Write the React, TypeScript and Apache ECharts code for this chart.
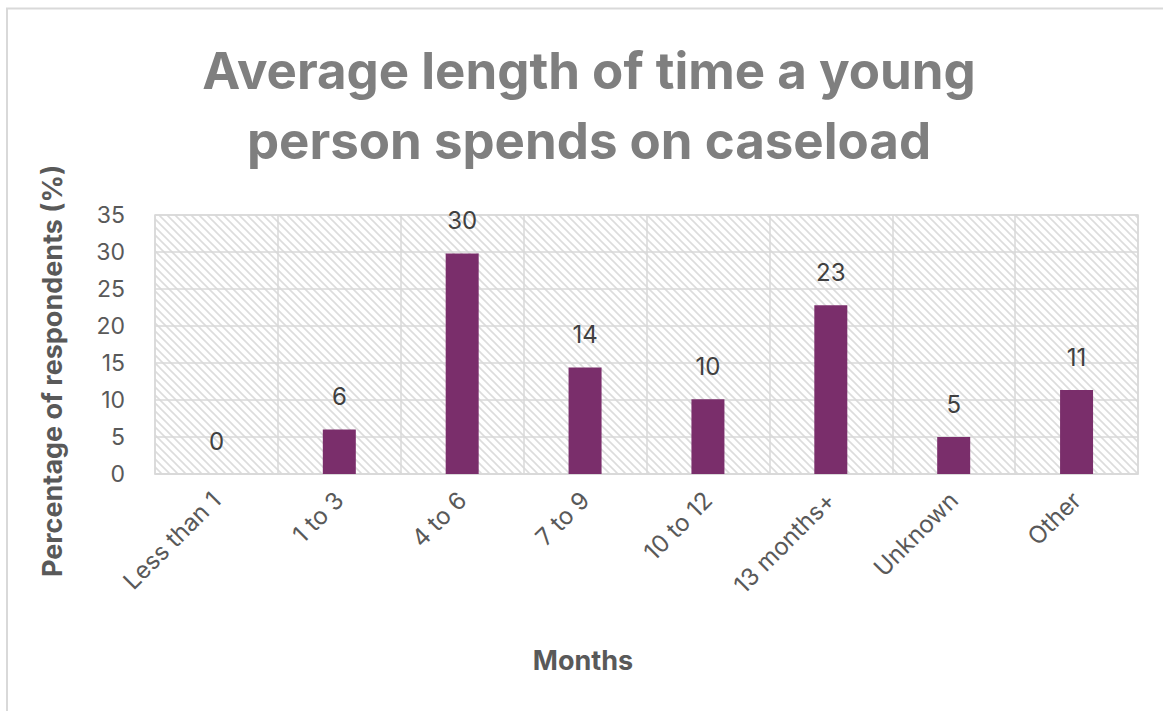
import React, { useEffect, useRef } from "react";
import * as echarts from "echarts";

const categories = ["Less than 1", "1 to 3", "4 to 6", "7 to 9", "10 to 12", "13 months+", "Unknown", "Other"];
const values = [0, 6, 29.8, 14.4, 10.1, 22.8, 5, 11.35];
const yMin = 0;
const yMax = 35;
const yStep = 5;
const titleLines = ["Average length of time a young", "person spends on caseload"];
const yAxisTitle = "Percentage of respondents (%)";
const xAxisTitle = "Months";

const FONT = "Inter, 'Noto Sans', sans-serif";
const GRID_C = "#d9d9d9";
const TEXT_C = "#595959";

const hatchSvg =
  "<svg xmlns='http://www.w3.org/2000/svg' width='8' height='8'>" +
  "<rect width='8' height='8' fill='#ffffff'/>" +
  "<path d='M-2,-2 L10,10 M-2,6 L2,10 M6,-2 L10,2' stroke='#dcdcdc' stroke-width='1.6'/></svg>";
const hatchUrl = "data:image/svg+xml;charset=utf-8," + encodeURIComponent(hatchSvg);

export default function App() {
  const ref = useRef<HTMLDivElement>(null);
  useEffect(() => {
    if (!ref.current) return;
    const chart = echarts.init(ref.current, null, { renderer: "svg" });
    chart.setOption({
      animation: false,
      backgroundColor: "#ffffff",
      grid: {
        show: true,
        left: 155,
        top: 215,
        right: 25,
        bottom: 237,
        containLabel: false,
        backgroundColor: {
          image: hatchUrl,
          repeat: "repeat",
          imageWidth: 8,
          imageHeight: 8,
        } as any,
        borderColor: GRID_C,
        borderWidth: 1.5,
      },
      xAxis: {
        type: "category",
        data: categories,
        boundaryGap: true,
        axisLine: { show: true, lineStyle: { color: GRID_C, width: 1.5 } },
        axisTick: { show: false },
        splitLine: { show: true, lineStyle: { color: GRID_C, width: 1.5 } },
        axisLabel: {
          rotate: 45,
          interval: 0,
          margin: 22,
          color: TEXT_C,
          fontFamily: FONT,
          fontSize: 24,
        },
      },
      yAxis: {
        type: "value",
        min: yMin,
        max: yMax,
        interval: yStep,
        axisLine: { show: false },
        axisTick: { show: false },
        splitLine: { show: true, lineStyle: { color: GRID_C, width: 1.5 } },
        axisLabel: {
          margin: 30,
          color: TEXT_C,
          fontFamily: FONT,
          fontSize: 23,
        },
      },
      series: [
        {
          type: "bar",
          data: values,
          barWidth: 33,
          itemStyle: { color: "#7a2e6b" },
          label: {
            show: true,
            position: "top",
            distance: 21,
            color: "#404040",
            fontFamily: FONT,
            fontSize: 24,
            formatter: (p: any) => String(Math.round(p.value)),
          },
        },
      ],
      graphic: [
        {
          type: "rect",
          shape: { x: 7, y: 8.5, width: 1200, height: 800 },
          style: { fill: "none", stroke: GRID_C, lineWidth: 2 },
          silent: true,
        },
        {
          type: "text",
          x: 589,
          y: 70,
          style: {
            text: titleLines[0],
            fill: "#7f7f7f",
            font: `bold 51px ${FONT}`,
            textAlign: "center",
            textVerticalAlign: "middle",
          },
        },
        {
          type: "text",
          x: 589,
          y: 140,
          style: {
            text: titleLines[1],
            fill: "#7f7f7f",
            font: `bold 51px ${FONT}`,
            textAlign: "center",
            textVerticalAlign: "middle",
          },
        },
        {
          type: "text",
          x: 52,
          y: 371,
          rotation: Math.PI / 2,
          style: {
            text: yAxisTitle,
            fill: TEXT_C,
            font: `bold 27px ${FONT}`,
            textAlign: "center",
            textVerticalAlign: "middle",
          },
        },
        {
          type: "text",
          x: 583,
          y: 660,
          style: {
            text: xAxisTitle,
            fill: TEXT_C,
            font: `bold 27px ${FONT}`,
            textAlign: "center",
            textVerticalAlign: "middle",
          },
        },
      ],
    });
    return () => chart.dispose();
  }, []);
  return (
    <div
      ref={ref}
      style={{ position: "absolute", left: 0, top: 0, width: 1163, height: 711 }}
    />
  );
}
